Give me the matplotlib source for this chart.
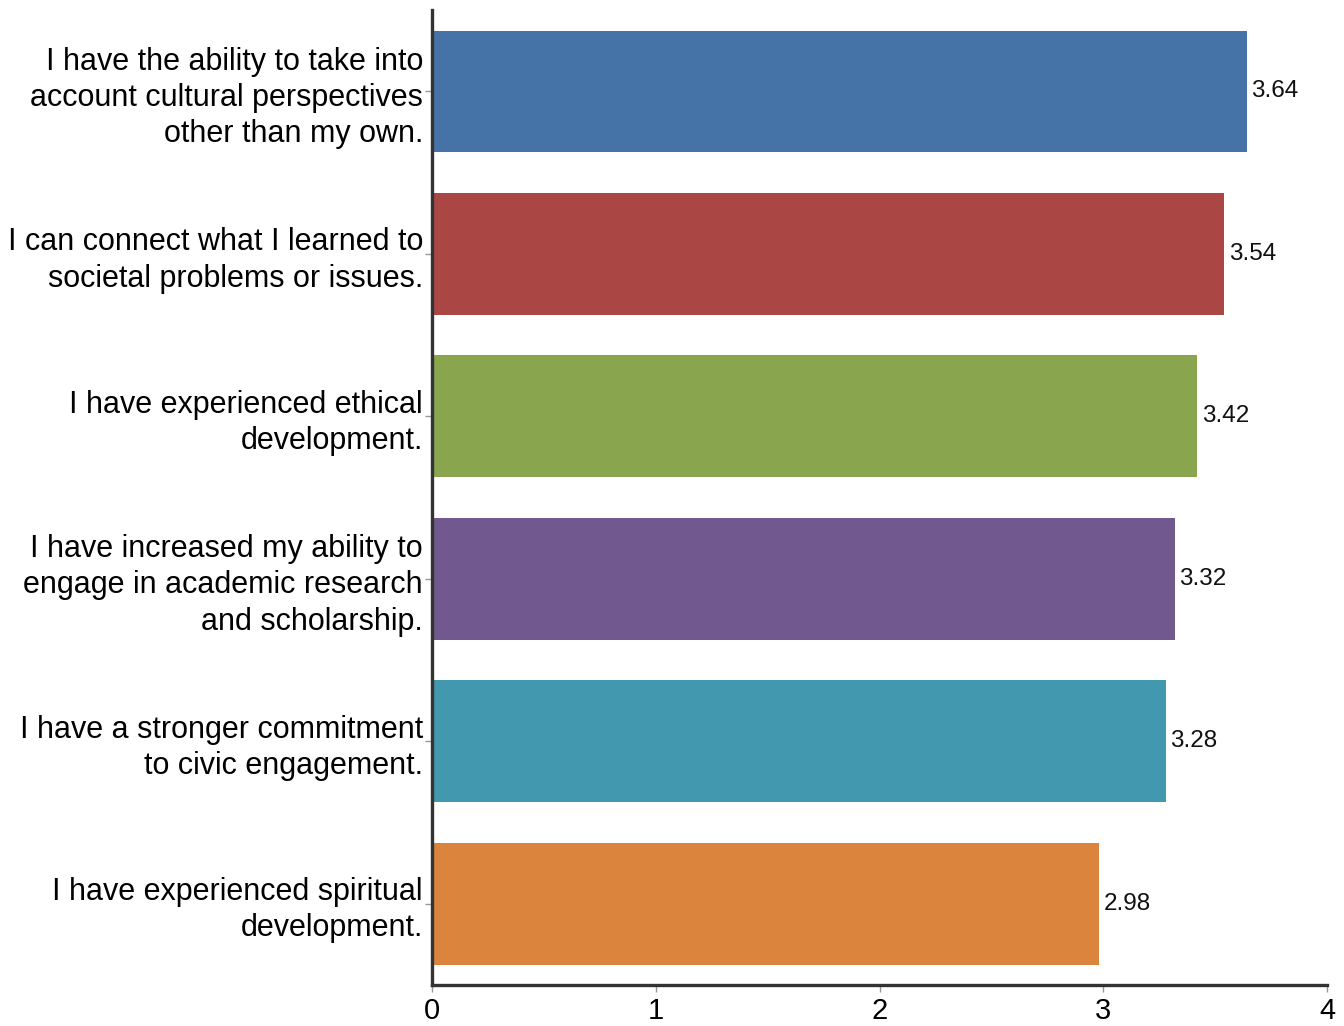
import matplotlib
matplotlib.use("Agg")
import matplotlib.pyplot as plt

plt.rcParams['font.family'] = ['Liberation Sans', 'DejaVu Sans']

# survey items, top to bottom
labels = [
    "I have the ability to take into\naccount cultural perspectives\nother than my own.",
    "I can connect what I learned to\nsocietal problems or issues.",
    "I have experienced ethical\ndevelopment.",
    "I have increased my ability to\nengage in academic research\nand scholarship.",
    "I have a stronger commitment\nto civic engagement.",
    "I have experienced spiritual\ndevelopment.",
]
values = [3.64, 3.54, 3.42, 3.32, 3.28, 2.98]
colors = ['#4572A7', '#AA4643', '#89A54E', '#71588F', '#4298AF', '#DB843D']
xticks = [0, 1, 2, 3, 4]

fig = plt.figure(figsize=(13.44, 10.26), dpi=100)
ax = fig.add_axes([0.3214, 0.040, 0.666, 0.950])

y = list(range(len(labels)))
ax.barh(y, values, height=0.75, color=colors)

for yi, v in zip(y, values):
    ax.text(v + 0.02, yi, f"{v:.2f}", va='center', ha='left', fontsize=17.5, color='#111111')

ax.set_ylim(len(labels) - 0.5, -0.5)
ax.set_xlim(0, 4)
ax.set_xticks(xticks)
ax.set_xticklabels([str(t) for t in xticks], fontsize=21)
ax.set_yticks(y)
ax.set_yticklabels(labels, fontsize=22, linespacing=1.27)

for s in ['top', 'right']:
    ax.spines[s].set_visible(False)
for s in ['left', 'bottom']:
    ax.spines[s].set_linewidth(2.4)
    ax.spines[s].set_color('#333333')

ax.tick_params(axis='x', length=5, width=1, color='#999999', pad=4)
ax.tick_params(axis='y', length=5, width=1, color='#999999', pad=1.5)

plt.savefig('out.png', dpi=100)
